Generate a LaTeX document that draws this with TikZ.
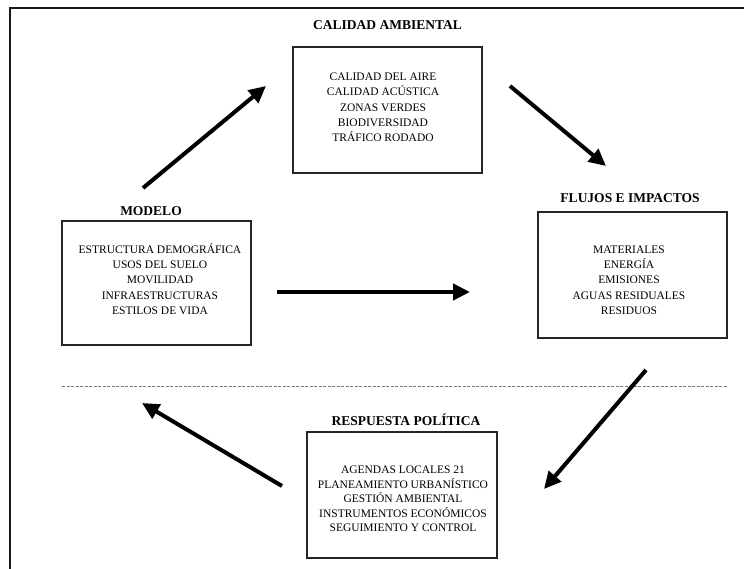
\documentclass[tikz,border=0pt]{standalone}
\usepackage{fontspec}
\setmainfont{Liberation Serif}
\usetikzlibrary{arrows.meta}
\begin{document}
\begin{tikzpicture}[x=1pt,y=-1pt,
  frameline/.style={line width=2.2pt, draw=black!90},
  boxst/.style={draw=black!85, line width=1.2pt, inner sep=0pt, fill=none},
  titlest/.style={font=\fontsize{13.5}{16}\selectfont\bfseries, text=black, inner sep=0pt},
  itemst/.style={font=\fontsize{11.5}{15.3}\selectfont, align=center, text=black, inner sep=0pt},
  flow/.style={line width=4pt, draw=black, -{Triangle[length=17pt,width=16pt]}},
  sep/.style={draw=black!55, line width=0.9pt, dash pattern=on 3pt off 1.5pt}]
\useasboundingbox (0,0) rectangle (744,569);
% frame
\coordinate (ftr) at (744,8);
\coordinate (ftl) at (10,8);
\coordinate (fbl) at (10,569);
\draw[frameline] (ftr) -- (ftl) -- (fbl);

% boxes
\node[boxst, minimum width=189pt, minimum height=126pt] (cabox) at (387.5,110) {};
\node[boxst, minimum width=189pt, minimum height=126pt] (flbox) at (632.5,275) {};
\node[boxst, minimum width=189pt, minimum height=124pt] (mobox) at (156.5,283) {};
\node[boxst, minimum width=190pt, minimum height=126pt] (rebox) at (402,495) {};

% titles
\node[titlest] (catitle) at (387.5,25) {CALIDAD AMBIENTAL};
\node[titlest] (fltitle) at (630,198) {FLUJOS E IMPACTOS};
\node[titlest] (motitle) at (151,211) {MODELO};
\node[titlest] (retitle) at (406,420) {RESPUESTA POLÍTICA};

% items
\node[itemst] (catext) at (383,107.5) {CALIDAD DEL AIRE\\CALIDAD ACÚSTICA\\ZONAS VERDES\\BIODIVERSIDAD\\TRÁFICO RODADO};
\node[itemst] (fltext) at (629,280) {MATERIALES\\ENERGÍA\\EMISIONES\\AGUAS RESIDUALES\\RESIDUOS};
\node[itemst] (motext) at (160,279) {ESTRUCTURA DEMOGRÁFICA\\USOS DEL SUELO\\MOVILIDAD\\INFRAESTRUCTURAS\\ESTILOS DE VIDA};
\node[itemst, font=\fontsize{11.5}{14.6}\selectfont] (retext) at (403,499) {AGENDAS LOCALES 21\\PLANEAMIENTO URBANÍSTICO\\GESTIÓN AMBIENTAL\\INSTRUMENTOS ECONÓMICOS\\SEGUIMIENTO Y CONTROL};

% separator
\coordinate (sepl) at (62,386);
\coordinate (sepr) at (728,386);
\draw[sep] (sepl) -- (sepr);

% arrows
\coordinate (a1s) at (143,188);
\coordinate (a1e) at (266,86);
\coordinate (a2s) at (510,86);
\coordinate (a2e) at (606,166);
\coordinate (a3s) at (277,292);
\coordinate (a3e) at (470,292);
\coordinate (a4s) at (646,370);
\coordinate (a4e) at (544,489);
\coordinate (a5s) at (282,486);
\coordinate (a5e) at (142,403);
\draw[flow] (a1s) -- (a1e);
\draw[flow] (a2s) -- (a2e);
\draw[flow, line width=4.8pt] (a3s) -- (a3e);
\draw[flow] (a4s) -- (a4e);
\draw[flow] (a5s) -- (a5e);
\end{tikzpicture}
\end{document}
